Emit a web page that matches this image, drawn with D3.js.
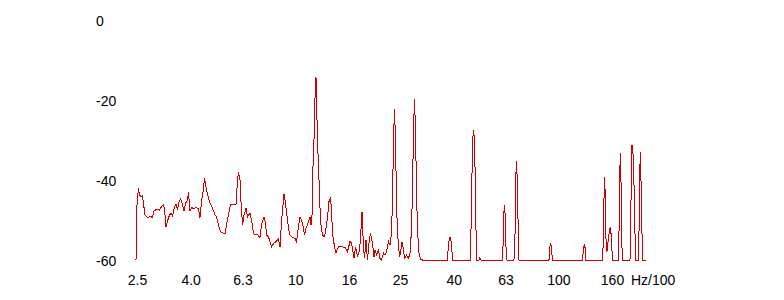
<!DOCTYPE html>
<html>
<head>
<meta charset="utf-8">
<script src="https://cdnjs.cloudflare.com/ajax/libs/d3/7.8.5/d3.min.js"></script>
<style>
  body { margin: 0; background: #fff; }
  svg { display: block; }
  .axis text { font-family: "Liberation Sans", Arial, sans-serif; font-size: 14px; fill: #000; }
  .axis path { display: none; }
</style>
</head>
<body>
<script>
var w = 784,
    h = 300;

// frequency in Hz/100, level in dB
var freqs = [2.478, 2.5, 2.533, 2.555, 2.589, 2.623, 2.681, 2.741, 2.814, 2.863,
  2.901, 2.965, 3.044, 3.098, 3.153, 3.181, 3.223, 3.265, 3.323, 3.382,
  3.411, 3.472, 3.518, 3.564, 3.611, 3.659, 3.723, 3.773, 3.823, 3.890,
  3.924, 3.976, 4.029, 4.100, 4.191, 4.283, 4.340, 4.397, 4.475, 4.514,
  4.594, 4.716, 4.842, 4.949, 5.014, 5.103, 5.193, 5.331, 5.402, 5.473,
  5.570, 5.668, 5.819, 5.948, 6.027, 6.080, 6.160, 6.214, 6.297, 6.380,
  6.492, 6.578, 6.724, 6.813, 6.933, 7.025, 7.180, 7.339, 7.436, 7.601,
  7.701, 7.769, 7.906, 8.116, 8.296, 8.480, 8.629, 8.744, 8.859, 9.055,
  9.175, 9.337, 9.502, 9.670, 9.971, 10.103, 10.281, 10.417, 10.555, 10.741,
  10.836, 10.979, 11.221, 11.370, 11.470, 11.571, 11.621, 11.775, 11.879, 11.983,
  12.036, 12.195, 12.357, 12.465, 12.685, 12.909, 13.080, 13.253, 13.428, 13.606,
  13.725, 13.846, 14.091, 14.277, 14.592, 14.981, 15.447, 15.789, 16.138, 16.352,
  16.714, 16.935, 17.233, 17.538, 17.692, 17.926, 18.163, 18.322, 18.565, 18.810,
  19.059, 19.311, 19.652, 19.912, 20.087, 20.352, 20.712, 20.986, 21.263, 21.639,
  21.925, 22.215, 22.607, 22.906, 23.208, 23.413, 23.619, 23.826, 24.036, 24.247,
  24.461, 24.893, 25.112, 25.444, 25.780, 26.007, 26.466, 26.933, 27.289, 27.650,
  27.893, 28.138, 28.386, 28.636, 28.887, 29.141, 29.527, 29.917, 30.445, 37.895,
  38.229, 38.734, 39.246, 39.592, 46.349, 46.552, 46.961, 47.374, 47.707, 48.127,
  48.635, 49.063, 49.930, 50.369, 50.812, 61.336, 61.605, 61.876, 62.419, 62.968,
  63.244, 63.800, 67.832, 68.429, 68.729, 69.333, 69.943, 70.434, 70.867, 92.158,
  92.562, 93.539, 94.362, 94.858, 123.79, 124.44, 125.53, 126.64, 127.41, 147.47,
  148.25, 149.16, 150.07, 150.86, 151.79, 153.13, 154.88, 156.24, 157.62, 159.00,
  160.68, 169.05, 170.09, 171.14, 172.04, 173.10, 174.16, 175.08, 187.29, 188.43,
  189.43, 190.59, 191.76, 192.77, 193.96, 195.67, 197.39, 201.41, 202.65, 203.89,
  204.97, 206.23, 208.04, 209.32, 214.89];

var levels = [-60, -46.25, -42, -43.75, -44.2, -43.9, -48.75, -49.3, -49.2, -49.3,
  -47.75, -47.3, -47.5, -46.7, -46.1, -47.25, -51.7, -50.25, -48.75, -48.3,
  -49.2, -46.7, -46.1, -47.5, -45.4, -44.75, -46.1, -47.75, -45.8, -45,
  -43.1, -47.75, -46.9, -47.1, -46.9, -47.1, -49.4, -45.4, -42.1, -39.4,
  -42.5, -45.4, -47.1, -48.75, -49.2, -51.25, -52.9, -53.3, -53.5, -51.25,
  -48.75, -46.25, -46.1, -46.1, -40, -38.1, -40, -45.4, -51.25, -48.75,
  -47.1, -49.2, -48.3, -50, -53.3, -53.75, -53.6, -54.4, -51.25, -49.2,
  -50.8, -53.75, -54.2, -56.7, -55.8, -55.25, -54.75, -56.7, -50.4, -43.6,
  -45.8, -50, -53.6, -54.2, -54.6, -55.4, -51.7, -49.2, -50, -52.1,
  -53.75, -52.1, -50.4, -49.3, -51.25, -49.2, -40, -30, -19.6, -14.2,
  -20.4, -33.3, -43.3, -50.4, -53.75, -54.2, -52.1, -49.2, -45.4, -44.6,
  -47.5, -53.3, -56.7, -58.2, -56.7, -56.7, -56.8, -57.9, -55.4, -55.8,
  -59.6, -56.7, -59.2, -57.5, -54.6, -47.9, -56.7, -59.6, -55, -60,
  -55.8, -53.3, -55.8, -59.2, -57.5, -58.75, -57.5, -59.6, -60, -58.3,
  -58.75, -57.9, -55.4, -56.25, -53.3, -45, -30, -22.3, -30, -45,
  -53.3, -59.2, -58.3, -55.4, -57.5, -59.6, -58.75, -59.6, -58.3, -52.5,
  -42.5, -27.5, -19.8, -27.5, -42.5, -52.5, -58.3, -59.8, -60, -60,
  -55.75, -54.2, -55.8, -60, -60, -52.5, -38.3, -29, -27.5, -33,
  -52.5, -60, -60, -59.4, -60, -60, -56.7, -49.5, -46.25, -50,
  -56.7, -60, -60, -54.2, -41.25, -35.2, -41.25, -54.2, -60, -60,
  -57.1, -55.8, -57.1, -60, -60, -57.1, -56.25, -57.1, -60, -60,
  -54.6, -44.6, -39.2, -44.6, -54.6, -57.9, -55, -53, -51.7, -54,
  -60, -60, -53.3, -40, -33.3, -40, -53.3, -60, -60, -53.3,
  -38.3, -31.25, -32.5, -34.2, -40.8, -53.3, -60, -60, -53.3, -40,
  -32.9, -40, -53.3, -60, -60];

var xTicks = [2.5, 4, 6.3, 10, 16, 25, 40, 63, 100, 160];
var xTickLabels = ["2.5", "4.0", "6.3", "10", "16", "25", "40", "63", "100", "160"];
var yTicks = [0, -20, -40, -60];
var yTickLabels = ["0", "-20", "-40", "-60"];
var xUnit = "Hz/100";

var svg = d3.select("body").append("svg")
    .attr("width", w)
    .attr("height", h);

svg.append("rect")
    .attr("width", w)
    .attr("height", h)
    .attr("fill", "#fff");

var x = d3.scaleLog()
    .domain([2.5, 160])
    .range([137, 612]);

var y = d3.scaleLinear()
    .domain([-60, 0])
    .range([260, 20]);

// y labels sit left aligned at x=96
svg.append("g")
    .attr("class", "axis")
    .attr("transform", "translate(96,1)")
    .call(d3.axisRight(y)
        .tickValues(yTicks)
        .tickFormat(function(d, i){ return yTickLabels[i]; })
        .tickSize(0)
        .tickPadding(0));

var xAxis = svg.append("g")
    .attr("class", "axis")
    .attr("transform", "translate(0,275)")
    .call(d3.axisBottom(x)
        .tickValues(xTicks)
        .tickFormat(function(d, i){ return xTickLabels[i]; })
        .tickSize(0)
        .tickPadding(0));

xAxis.append("text")
    .attr("x", 631)
    .attr("y", 0)
    .attr("dy", "0.71em")
    .attr("text-anchor", "start")
    .text(xUnit);

var line = d3.line()
    .x(function(d, i){ return x(freqs[i]); })
    .y(function(d){ return y(d); });

svg.append("path")
    .datum(levels)
    .attr("d", line)
    .attr("fill", "none")
    .attr("stroke", "#d00000")
    .attr("stroke-width", 1)
    .attr("shape-rendering", "crispEdges");
</script>
</body>
</html>
